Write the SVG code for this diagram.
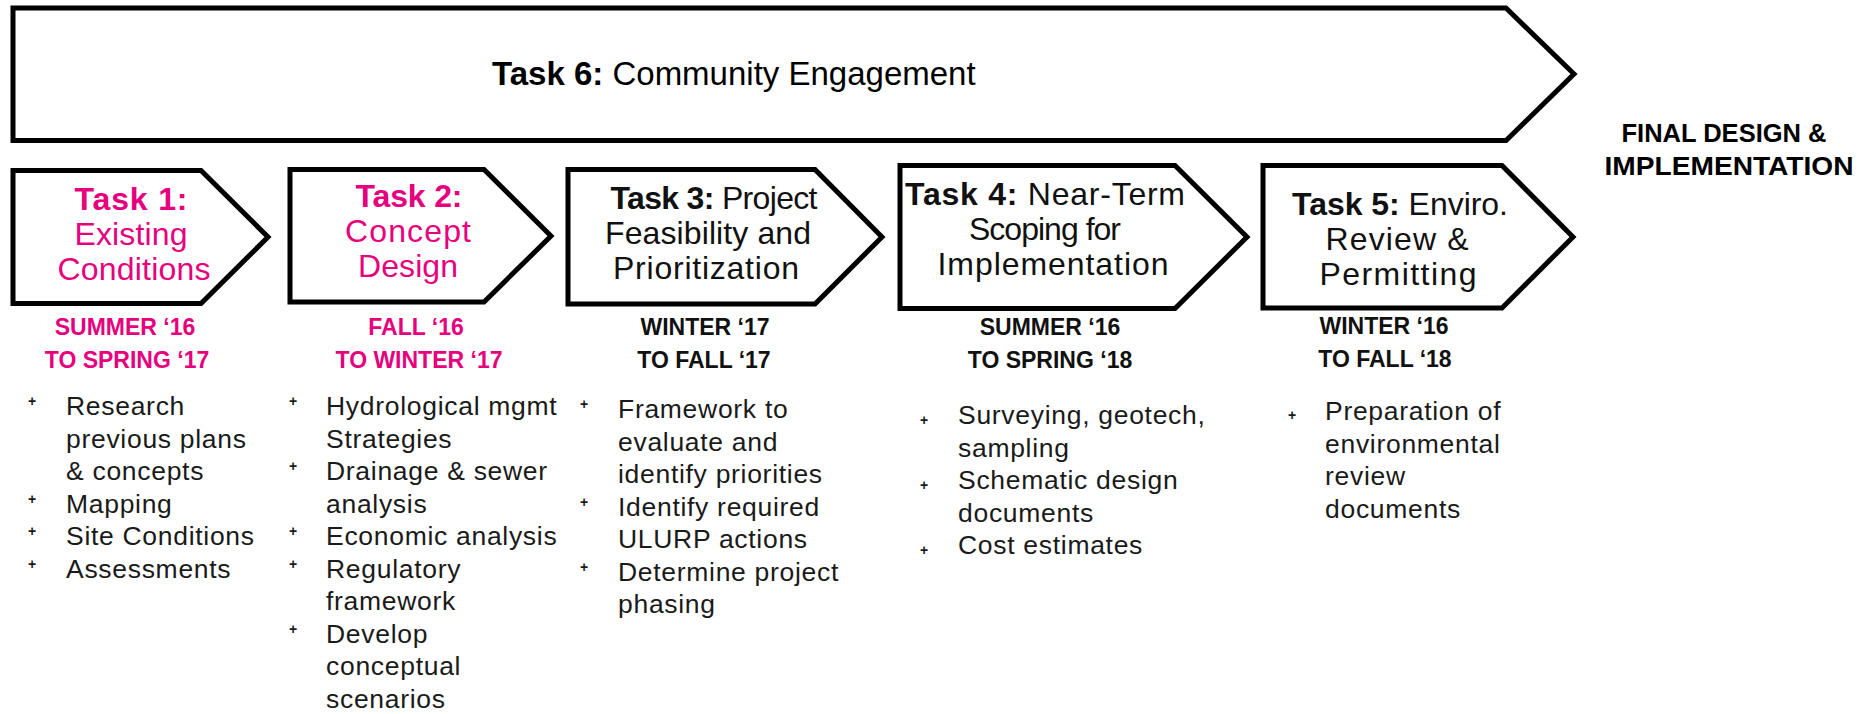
<svg xmlns="http://www.w3.org/2000/svg" width="1858" height="714" viewBox="0 0 1858 714">
<style>
.shape{fill:#fff;stroke:#000;stroke-width:5;stroke-linejoin:miter}
text{font-family:"Liberation Sans",Arial,sans-serif}
.t6{font-size:33px;fill:#000}
.tb{font-size:32px;text-anchor:middle}
.pink{fill:#E6007E}
.blk{fill:#111}
.date{font-size:23px;font-weight:bold;text-anchor:middle}
.bul{font-size:26.5px;fill:#1a1a1a;letter-spacing:0.7px}
.plus{font-size:14px;font-weight:bold;fill:#1a1a1a;text-anchor:middle}
.final{font-size:25px;font-weight:bold;text-anchor:middle;fill:#000}
</style>
<rect width="1858" height="714" fill="#fff"/>
<g id="task6">
<path class="shape" d="M13,8 L1506,8 L1574,74 L1506,140.5 L13,140.5 Z"/>
<text class="t6" x="492" y="85"><tspan font-weight="bold">Task 6:</tspan> Community Engagement</text>
</g>
<g id="final">
<text class="final" x="1724" y="142" textLength="205" lengthAdjust="spacingAndGlyphs">FINAL DESIGN &amp;</text>
<text class="final" x="1729" y="175" textLength="249" lengthAdjust="spacingAndGlyphs">IMPLEMENTATION</text>
</g>
<g id="task1">
<path class="shape" d="M13,170.5 L201,170.5 L268,237 L201,303.5 L13,303.5 Z"/>
<text class="tb pink" x="131" y="210" font-weight="bold" textLength="113">Task 1:</text>
<text class="tb pink" x="131" y="245" textLength="113">Existing</text>
<text class="tb pink" x="134" y="280" textLength="153">Conditions</text>
<text class="date pink" x="125" y="335">SUMMER ‘16</text>
<text class="date pink" x="127" y="368">TO SPRING ‘17</text>
</g>
<g id="task2">
<path class="shape" d="M290,169.5 L484,169.5 L551,236 L484,302 L290,302 Z"/>
<text class="tb pink" x="409" y="207" font-weight="bold" textLength="107">Task 2:</text>
<text class="tb pink" x="408" y="242" textLength="126">Concept</text>
<text class="tb pink" x="408" y="277" textLength="100">Design</text>
<text class="date pink" x="416" y="335">FALL ‘16</text>
<text class="date pink" x="419" y="368">TO WINTER ‘17</text>
</g>
<g id="task3">
<path class="shape" d="M568,169.5 L815,169.5 L882,237 L815,304 L568,304 Z"/>
<text class="tb blk" x="714" y="209" textLength="207"><tspan font-weight="bold">Task 3:</tspan> Project</text>
<text class="tb blk" x="708" y="244" textLength="206">Feasibility and</text>
<text class="tb blk" x="706" y="279" textLength="186">Prioritization</text>
<text class="date blk" x="705" y="335">WINTER ‘17</text>
<text class="date blk" x="704" y="368">TO FALL ‘17</text>
</g>
<g id="task4">
<path class="shape" d="M900,165.5 L1175,165.5 L1247,237 L1175,308.5 L900,308.5 Z"/>
<text class="tb blk" x="1045" y="205" textLength="280"><tspan font-weight="bold">Task 4:</tspan> Near-Term</text>
<text class="tb blk" x="1045" y="240" textLength="152">Scoping for</text>
<text class="tb blk" x="1053" y="275" textLength="231">Implementation</text>
<text class="date blk" x="1050" y="335">SUMMER ‘16</text>
<text class="date blk" x="1050" y="368">TO SPRING ‘18</text>
</g>
<g id="task5">
<path class="shape" d="M1263,165.5 L1502,165.5 L1573,237 L1502,308 L1263,308 Z"/>
<text class="tb blk" x="1400" y="215" textLength="216"><tspan font-weight="bold">Task 5:</tspan> Enviro.</text>
<text class="tb blk" x="1397" y="250" textLength="143">Review &amp;</text>
<text class="tb blk" x="1398" y="285" textLength="157">Permitting</text>
<text class="date blk" x="1384" y="334">WINTER ‘16</text>
<text class="date blk" x="1385" y="367">TO FALL ‘18</text>
</g>
<g id="list1">
<text class="plus" x="32" y="406">+</text>
<text class="bul" x="66" y="415">Research</text>
<text class="bul" x="66" y="447.5">previous plans</text>
<text class="bul" x="66" y="480">&amp; concepts</text>
<text class="plus" x="32" y="503.5">+</text>
<text class="bul" x="66" y="512.5">Mapping</text>
<text class="plus" x="32" y="536">+</text>
<text class="bul" x="66" y="545">Site Conditions</text>
<text class="plus" x="32" y="568.5">+</text>
<text class="bul" x="66" y="577.5">Assessments</text>
</g>
<g id="list2">
<text class="plus" x="293" y="406">+</text>
<text class="bul" x="326" y="415">Hydrological mgmt</text>
<text class="bul" x="326" y="447.5">Strategies</text>
<text class="plus" x="293" y="471">+</text>
<text class="bul" x="326" y="480">Drainage &amp; sewer</text>
<text class="bul" x="326" y="512.5">analysis</text>
<text class="plus" x="293" y="536">+</text>
<text class="bul" x="326" y="545">Economic analysis</text>
<text class="plus" x="293" y="568.5">+</text>
<text class="bul" x="326" y="577.5">Regulatory</text>
<text class="bul" x="326" y="610">framework</text>
<text class="plus" x="293" y="633.5">+</text>
<text class="bul" x="326" y="642.5">Develop</text>
<text class="bul" x="326" y="675">conceptual</text>
<text class="bul" x="326" y="707.5">scenarios</text>
</g>
<g id="list3">
<text class="plus" x="584" y="409">+</text>
<text class="bul" x="618" y="418">Framework to</text>
<text class="bul" x="618" y="450.5">evaluate and</text>
<text class="bul" x="618" y="483">identify priorities</text>
<text class="plus" x="584" y="506.5">+</text>
<text class="bul" x="618" y="515.5">Identify required</text>
<text class="bul" x="618" y="548">ULURP actions</text>
<text class="plus" x="584" y="571.5">+</text>
<text class="bul" x="618" y="580.5">Determine project</text>
<text class="bul" x="618" y="613">phasing</text>
</g>
<g id="list4">
<text class="plus" x="924" y="425">+</text>
<text class="bul" x="958" y="424">Surveying, geotech,</text>
<text class="bul" x="958" y="456.5">sampling</text>
<text class="plus" x="924" y="490">+</text>
<text class="bul" x="958" y="489">Schematic design</text>
<text class="bul" x="958" y="521.5">documents</text>
<text class="plus" x="924" y="555">+</text>
<text class="bul" x="958" y="554">Cost estimates</text>
</g>
<g id="list5">
<text class="plus" x="1292" y="420">+</text>
<text class="bul" x="1325" y="420">Preparation of</text>
<text class="bul" x="1325" y="452.5">environmental</text>
<text class="bul" x="1325" y="485">review</text>
<text class="bul" x="1325" y="517.5">documents</text>
</g>
<g id="connectors"></g>
</svg>
